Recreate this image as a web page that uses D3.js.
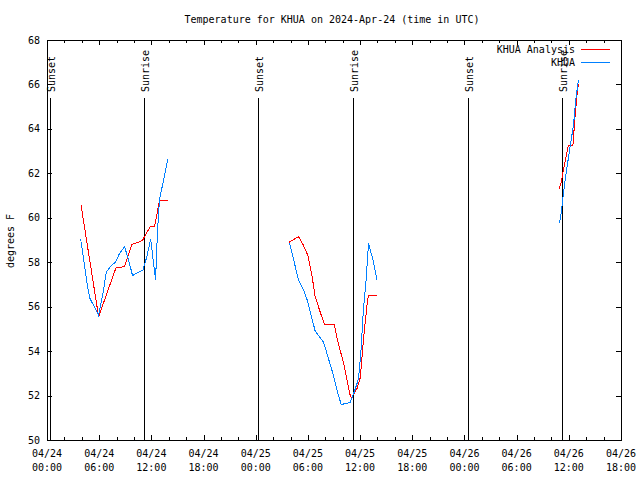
<!DOCTYPE html>
<html>
<head>
<meta charset="utf-8">
<script src="https://cdn.jsdelivr.net/npm/d3@7"></script>
<style>
  html, body { margin: 0; padding: 0; background: #fff; }
  svg { display: block; }
  text { font-family: "DejaVu Sans Mono", monospace; font-size: 10px; fill: #000; }
</style>
</head>
<body>
<svg id="chart" width="640" height="480"></svg>
<script>
// ---------------- data ----------------
const titleText = "Temperature for KHUA on 2024-Apr-24 (time in UTC)";
const yLabelText = "degrees F";
const seriesNames = ["KHUA Analysis", "KHUA"];
const seriesColors = ["#ff0000", "#0080ff"];

const analysisTimes = [
  "2024-04-24T03:54","2024-04-24T05:56","2024-04-24T07:56","2024-04-24T08:55","2024-04-24T09:46",
  "2024-04-24T10:30","2024-04-24T11:00","2024-04-24T11:52","2024-04-24T12:22","2024-04-24T12:57",
  "2024-04-24T13:52",
  "2024-04-25T03:51","2024-04-25T04:55","2024-04-25T05:30","2024-04-25T06:00","2024-04-25T06:28",
  "2024-04-25T06:50","2024-04-25T07:25","2024-04-25T07:55","2024-04-25T09:01","2024-04-25T09:31",
  "2024-04-25T10:05","2024-04-25T10:52","2024-04-25T10:59","2024-04-25T11:10","2024-04-25T11:38",
  "2024-04-25T12:01","2024-04-25T12:23","2024-04-25T12:51","2024-04-25T12:58","2024-04-25T13:56",
  "2024-04-26T10:53","2024-04-26T11:07","2024-04-26T11:23","2024-04-26T11:40","2024-04-26T11:57",
  "2024-04-26T12:28","2024-04-26T12:43","2024-04-26T12:55","2024-04-26T13:06"
];
const analysisTemps = [
  60.6, 55.55, 57.75, 57.8, 58.8,
  58.9, 59.0, 59.6, 59.6, 60.8,
  60.8,
  58.9, 59.15, 58.75, 58.3, 57.4,
  56.45, 55.75, 55.2, 55.2, 54.3,
  53.5, 52.0, 51.9, 52.0, 52.3,
  52.8, 54.5, 56.3, 56.5, 56.5,
  61.3, 61.6, 62.15, 62.7, 63.25,
  63.25, 64.55, 65.45, 66.0
];

const obsTimes = [
  "2024-04-24T03:52","2024-04-24T04:17","2024-04-24T04:36","2024-04-24T04:54","2024-04-24T05:22",
  "2024-04-24T05:56","2024-04-24T06:30","2024-04-24T06:49","2024-04-24T07:17","2024-04-24T07:51",
  "2024-04-24T08:21","2024-04-24T08:55","2024-04-24T09:23","2024-04-24T09:50","2024-04-24T10:32",
  "2024-04-24T11:02","2024-04-24T11:29","2024-04-24T11:55","2024-04-24T12:18","2024-04-24T12:29",
  "2024-04-24T12:42","2024-04-24T12:56","2024-04-24T13:24","2024-04-24T13:54",
  "2024-04-25T03:53","2024-04-25T04:20","2024-04-25T04:55","2024-04-25T05:30","2024-04-25T05:58",
  "2024-04-25T06:23","2024-04-25T06:50","2024-04-25T07:20","2024-04-25T07:48","2024-04-25T08:11",
  "2024-04-25T08:52","2024-04-25T09:24","2024-04-25T09:50","2024-04-25T10:29","2024-04-25T10:52",
  "2024-04-25T11:19","2024-04-25T11:49","2024-04-25T12:05","2024-04-25T12:23","2024-04-25T12:42",
  "2024-04-25T12:58","2024-04-25T13:10","2024-04-25T13:28","2024-04-25T13:56",
  "2024-04-26T10:55","2024-04-26T11:07","2024-04-26T11:23","2024-04-26T11:41","2024-04-26T12:02",
  "2024-04-26T12:16","2024-04-26T12:32","2024-04-26T12:48","2024-04-26T13:06"
];
const obsTemps = [
  59.05, 57.95, 57.05, 56.4, 56.05,
  55.6, 56.75, 57.55, 57.8, 58.0,
  58.4, 58.7, 58.1, 57.4, 57.55,
  57.65, 58.25, 59.05, 57.8, 57.2,
  59.35, 60.8, 61.7, 62.65,
  58.85, 58.15, 57.2, 56.75, 56.25,
  55.6, 54.9, 54.65, 54.4, 53.9,
  53.0, 52.15, 51.6, 51.65, 51.7,
  52.15, 52.75, 53.9, 55.9, 57.25,
  58.85, 58.55, 58.15, 57.2,
  59.75, 60.2, 61.1, 62.0, 62.9,
  63.5, 64.15, 65.3, 66.2
];

const sunEventTimes = [
  "2024-04-24T00:18","2024-04-24T11:06","2024-04-25T00:19",
  "2024-04-25T11:08","2024-04-26T00:23","2024-04-26T11:12"
];
const sunEventNames = ["Sunset","Sunrise","Sunset","Sunrise","Sunset","Sunrise"];

const xDomain = ["2024-04-24T00:00","2024-04-26T18:00"];
const yDomain = [50, 68];
const yTickValues = [50, 52, 54, 56, 58, 60, 62, 64, 66, 68];

// ---------------- drawing ----------------
const parse = s => new Date(s + ":00Z");
const m = { left: 47, right: 621, top: 40, bottom: 440 };

const svg = d3.select("#chart");

const x = d3.scaleUtc().domain(xDomain.map(parse)).range([m.left, m.right]);
const y = d3.scaleLinear().domain(yDomain).range([m.bottom, m.top]);

// Title
svg.append("text").attr("x", 332).attr("y", 23).attr("text-anchor", "middle").text(titleText);

// Y label
svg.append("text")
  .attr("transform", "translate(14,241) rotate(-90)")
  .attr("text-anchor", "middle")
  .text(yLabelText);

const majorTicks = d3.utcHour.every(6).range(parse(xDomain[0]), new Date(+parse(xDomain[1]) + 1));
const minorTicks = d3.utcHour.every(2).range(parse(xDomain[0]), new Date(+parse(xDomain[1]) + 1))
  .filter(d => d.getUTCHours() % 6 !== 0);

const g = svg.append("g").attr("shape-rendering", "crispEdges");
const px = v => Math.round(v) + 0.5;

majorTicks.forEach(d => {
  const xx = px(x(d));
  g.append("line").attr("x1", xx).attr("x2", xx).attr("y1", m.bottom).attr("y2", m.bottom - 5).attr("stroke", "#000");
  g.append("line").attr("x1", xx).attr("x2", xx).attr("y1", m.top).attr("y2", m.top + 5).attr("stroke", "#000");
});
minorTicks.forEach(d => {
  const xx = px(x(d));
  g.append("line").attr("x1", xx).attr("x2", xx).attr("y1", m.bottom).attr("y2", m.bottom - 3).attr("stroke", "#000");
  g.append("line").attr("x1", xx).attr("x2", xx).attr("y1", m.top).attr("y2", m.top + 3).attr("stroke", "#000");
});

const fmtDate = d3.utcFormat("%m/%d");
const fmtTime = d3.utcFormat("%H:%M");
majorTicks.forEach(d => {
  const t = svg.append("text").attr("text-anchor", "middle");
  t.append("tspan").attr("x", x(d)).attr("y", 457).text(fmtDate(d));
  t.append("tspan").attr("x", x(d)).attr("y", 471).text(fmtTime(d));
});

yTickValues.forEach(v => {
  const yy = px(y(v));
  g.append("line").attr("x1", m.left).attr("x2", m.left + 5).attr("y1", yy).attr("y2", yy).attr("stroke", "#000");
  g.append("line").attr("x1", m.right).attr("x2", m.right - 5).attr("y1", yy).attr("y2", yy).attr("stroke", "#000");
  svg.append("text").attr("x", 40).attr("y", y(v) + 3.5).attr("text-anchor", "end").text(v);
});

g.append("rect")
  .attr("x", m.left + 0.5).attr("y", m.top + 0.5)
  .attr("width", m.right - m.left).attr("height", m.bottom - m.top)
  .attr("fill", "none").attr("stroke", "#000");

sunEventTimes.forEach((s, i) => {
  const xx = px(x(parse(s)));
  g.append("line").attr("x1", xx).attr("x2", xx).attr("y1", 98).attr("y2", m.bottom).attr("stroke", "#000");
  svg.append("text")
    .attr("transform", `translate(${x(parse(s)) + 5},92) rotate(-90)`)
    .attr("text-anchor", "start")
    .text(sunEventNames[i]);
});

function segments(times, temps) {
  const pts = times.map((t, i) => ({ t: parse(t), v: temps[i] }));
  const segs = [];
  let cur = [];
  pts.forEach((p, i) => {
    if (i > 0 && (p.t - pts[i - 1].t) > 3 * 3600 * 1000) { segs.push(cur); cur = []; }
    cur.push(p);
  });
  if (cur.length) segs.push(cur);
  return segs;
}

const line = d3.line().x(d => x(d.t)).y(d => y(d.v));

[[analysisTimes, analysisTemps], [obsTimes, obsTemps]].forEach(([ts, vs], k) => {
  segments(ts, vs).forEach(seg => {
    svg.append("path").datum(seg)
      .attr("d", line)
      .attr("fill", "none")
      .attr("stroke", seriesColors[k])
      .attr("stroke-width", 1)
      .attr("shape-rendering", "crispEdges");
  });
});

seriesNames.forEach((name, i) => {
  const ly = 49 + i * 13;
  svg.append("text").attr("x", 575).attr("y", ly + 4).attr("text-anchor", "end").text(name);
  g.append("line").attr("x1", 581).attr("x2", 610).attr("y1", ly + 0.5).attr("y2", ly + 0.5)
    .attr("stroke", seriesColors[i]);
});
</script>
</body>
</html>
